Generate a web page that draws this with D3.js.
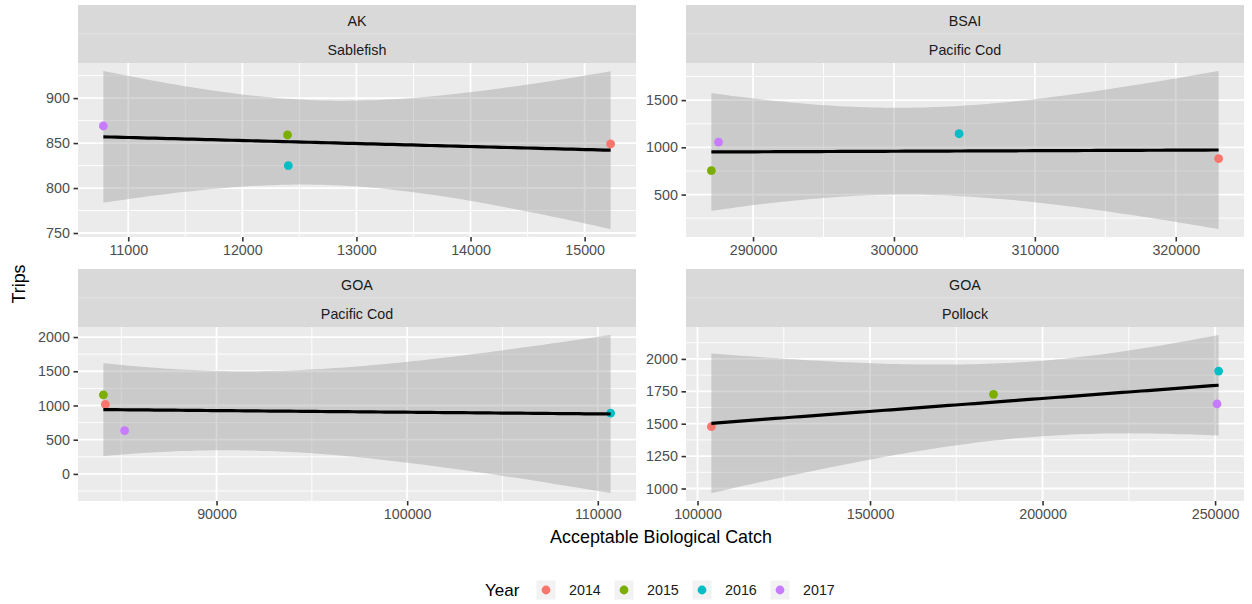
<!DOCTYPE html>
<html>
<head>
<meta charset="utf-8">
<script src="https://cdn.jsdelivr.net/npm/d3@7"></script>
<style>
  body { margin: 0; background: #fff; }
  text { font-family: "Liberation Sans", Arial, sans-serif; }
</style>
</head>
<body>
<svg id="chart"></svg>
<script>
const WIDTH = 1252;
const HEIGHT = 604;

// facets
const regions = ["AK", "BSAI", "GOA", "GOA"];
const species = ["Sablefish", "Pacific Cod", "Pacific Cod", "Pollock"];

// legend
const years = ["2014", "2015", "2016", "2017"];
const yearColors = ["#F8766D", "#7CAE00", "#00BFC4", "#C77CFF"];

// values per facet, in year order 2014..2017
const abcAK = [15228, 12396, 12403, 10782];
const tripsAK = [849, 859, 825, 869];
const abcBSAI = [323042, 287042, 304620, 287549];
const tripsBSAI = [881, 754, 1144, 1056];
const abcGOAcod = [84168, 84063, 110674, 85179];
const tripsGOAcod = [1015, 1156, 888, 634];
const abcGOApol = [104014, 185780, 251032, 250573];
const tripsGOApol = [1477, 1727, 1906, 1653];

// tick labels per facet
const xTicks = [
  [11000, 12000, 13000, 14000, 15000],
  [290000, 300000, 310000, 320000],
  [90000, 100000, 110000],
  [100000, 150000, 200000, 250000]
];
const yTicks = [
  [750, 800, 850, 900],
  [500, 1000, 1500],
  [0, 500, 1000, 1500, 2000],
  [1000, 1250, 1500, 1750, 2000]
];

const abc = [abcAK, abcBSAI, abcGOAcod, abcGOApol];
const trips = [tripsAK, tripsBSAI, tripsGOAcod, tripsGOApol];

// layout
const cols = [[78, 636], [686, 1244]];
const stripTop = [5, 269];
const stripH = 58;
const panelH = 174;

const svg = d3.select("#chart").attr("width", WIDTH).attr("height", HEIGHT);

// lm fit with 95% confidence band, like geom_smooth(method = "lm")
const T975_DF2 = 4.302653;
function lmBand(xs, ys) {
  const n = xs.length;
  const mx = d3.mean(xs), my = d3.mean(ys);
  const sxx = d3.sum(xs, x => (x - mx) ** 2);
  const sxy = d3.sum(xs.map((x, i) => (x - mx) * (ys[i] - my)));
  const b = sxy / sxx, a = my - b * mx;
  const sse = d3.sum(xs.map((x, i) => (ys[i] - (a + b * x)) ** 2));
  const s = Math.sqrt(sse / (n - 2));
  const [x0, x1] = d3.extent(xs);
  return d3.range(80).map(k => {
    const x = x0 + (x1 - x0) * k / 79;
    const fit = a + b * x;
    const se = s * Math.sqrt(1 / n + (x - mx) ** 2 / sxx);
    return {x, y: fit, lo: fit - T975_DF2 * se, hi: fit + T975_DF2 * se};
  });
}

function expand([a, b]) {
  const d = (b - a) * 0.05;
  return [a - d, b + d];
}

function minorBreaks(ticks, domain) {
  const step = ticks[1] - ticks[0];
  const out = [];
  for (let v = ticks[0] - step / 2; v <= ticks[ticks.length - 1] + step; v += step) {
    if (v >= domain[0] && v <= domain[1]) out.push(v);
  }
  return out;
}

for (let p = 0; p < 4; p++) {
  const col = cols[p % 2];
  const sTop = stripTop[Math.floor(p / 2)];
  const pTop = sTop + stripH;
  const pBot = pTop + panelH;
  const xs = abc[p], ys = trips[p];
  const band = lmBand(xs, ys);

  const xScale = d3.scaleLinear().domain(expand(d3.extent(xs))).range(col);
  const yLo = Math.min(d3.min(ys), d3.min(band, d => d.lo));
  const yHi = Math.max(d3.max(ys), d3.max(band, d => d.hi));
  const yScale = d3.scaleLinear().domain(expand([yLo, yHi])).range([pBot, pTop]);

  const g = svg.append("g");

  // strips
  g.append("rect").attr("x", col[0]).attr("y", sTop).attr("width", col[1] - col[0])
    .attr("height", stripH).attr("fill", "#D9D9D9");
  g.append("line").attr("x1", col[0]).attr("x2", col[1])
    .attr("y1", sTop + stripH / 2).attr("y2", sTop + stripH / 2)
    .attr("stroke", "#E2E2E2").attr("stroke-width", 1);
  [regions[p], species[p]].forEach((t, i) => {
    g.append("text").attr("x", (col[0] + col[1]) / 2)
      .attr("y", sTop + stripH / 4 + i * stripH / 2 + 1.5).attr("dy", "0.35em")
      .attr("text-anchor", "middle").attr("font-size", "14.3px").attr("fill", "#1A1A1A")
      .text(t);
  });

  // panel
  g.append("rect").attr("x", col[0]).attr("y", pTop).attr("width", col[1] - col[0])
    .attr("height", panelH).attr("fill", "#EBEBEB");

  const grid = g.append("g").attr("stroke", "#fff");
  minorBreaks(xTicks[p], xScale.domain()).forEach(v => {
    grid.append("line").attr("x1", xScale(v)).attr("x2", xScale(v))
      .attr("y1", pTop).attr("y2", pBot).attr("stroke-width", 0.9);
  });
  minorBreaks(yTicks[p], yScale.domain()).forEach(v => {
    grid.append("line").attr("y1", yScale(v)).attr("y2", yScale(v))
      .attr("x1", col[0]).attr("x2", col[1]).attr("stroke-width", 0.9);
  });
  xTicks[p].forEach(v => {
    grid.append("line").attr("x1", xScale(v)).attr("x2", xScale(v))
      .attr("y1", pTop).attr("y2", pBot).attr("stroke-width", 1.8);
  });
  yTicks[p].forEach(v => {
    grid.append("line").attr("y1", yScale(v)).attr("y2", yScale(v))
      .attr("x1", col[0]).attr("x2", col[1]).attr("stroke-width", 1.8);
  });

  // confidence band
  g.append("path").datum(band)
    .attr("d", d3.area().x(d => xScale(d.x)).y0(d => yScale(d.lo)).y1(d => yScale(d.hi)))
    .attr("fill", "#999999").attr("fill-opacity", 0.4);

  // points
  g.selectAll(".pt").data(xs.map((x, i) => ({x, y: ys[i], i})))
    .enter().append("circle")
    .attr("cx", d => xScale(d.x)).attr("cy", d => yScale(d.y)).attr("r", 4.4)
    .attr("fill", d => yearColors[d.i]);

  // fit line
  g.append("path").datum(band)
    .attr("d", d3.line().x(d => xScale(d.x)).y(d => yScale(d.y)))
    .attr("fill", "none").attr("stroke", "#000").attr("stroke-width", 3.2);

  // axes
  const xAxis = d3.axisBottom(xScale).tickValues(xTicks[p]).tickSize(4.5).tickPadding(3.6)
    .tickFormat(d3.format("d"));
  const xa = g.append("g").attr("transform", `translate(0,${pBot})`).call(xAxis);
  const yAxis = d3.axisLeft(yScale).tickValues(yTicks[p]).tickSize(4.5).tickPadding(3.6)
    .tickFormat(d3.format("d"));
  const ya = g.append("g").attr("transform", `translate(${col[0]},0)`).call(yAxis);
  [xa, ya].forEach(a => {
    a.select(".domain").remove();
    a.selectAll(".tick line").attr("stroke", "#333333").attr("stroke-width", 1.6);
    a.selectAll(".tick text").attr("fill", "#4D4D4D").attr("font-size", "14.3px")
      .attr("font-family", "Liberation Sans, Arial, sans-serif");
  });
}

// axis titles
svg.append("text").attr("x", (cols[0][0] + cols[1][1]) / 2).attr("y", 537).attr("dy", "0.35em")
  .attr("text-anchor", "middle").attr("font-size", "17.9px").attr("fill", "#000")
  .text("Acceptable Biological Catch");
svg.append("text").attr("transform", "translate(19,284) rotate(-90)").attr("dy", "0.35em")
  .attr("text-anchor", "middle").attr("font-size", "17.9px").attr("fill", "#000")
  .text("Trips");

// legend
const legY = 590;
svg.append("text").attr("x", 485).attr("y", legY).attr("dy", "0.35em")
  .attr("font-size", "17px").attr("fill", "#000").text("Year");
years.forEach((yr, i) => {
  const cx = 546 + i * 78;
  svg.append("rect").attr("x", cx - 9.5).attr("y", legY - 9.5).attr("width", 19).attr("height", 19)
    .attr("fill", "#F2F2F2");
  svg.append("circle").attr("cx", cx).attr("cy", legY).attr("r", 4.4).attr("fill", yearColors[i]);
  svg.append("text").attr("x", cx + 23).attr("y", legY).attr("dy", "0.35em")
    .attr("font-size", "14.3px").attr("fill", "#1A1A1A").text(yr);
});
</script>
</body>
</html>
